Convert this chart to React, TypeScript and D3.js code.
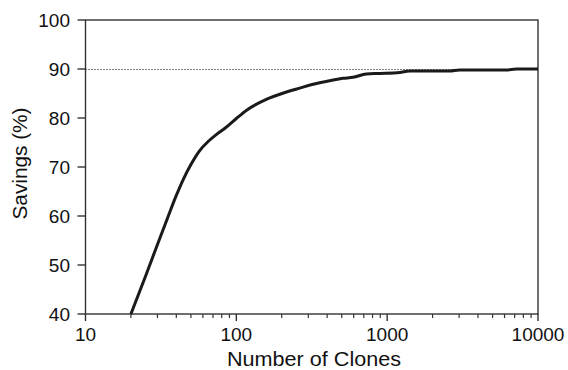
import React from "react";
import * as d3 from "d3";

// number of clones (x, log scale) and savings in % (y)
const clones = [20, 25, 30, 35, 40, 45, 50, 57, 65, 75, 84, 100, 117, 158, 215, 263, 323, 416, 509, 594, 728, 900, 1211, 1408, 2595, 3020, 6170, 7180, 10000];
const savings = [40, 47.7, 54.2, 59.6, 64.2, 67.8, 70.5, 73.3, 75.2, 76.8, 77.9, 79.9, 81.6, 83.8, 85.3, 86.1, 86.9, 87.6, 88.1, 88.3, 89.0, 89.1, 89.3, 89.6, 89.6, 89.8, 89.8, 90, 90];
const xTicks = [10, 100, 1000, 10000];
const yTicks = [40, 50, 60, 70, 80, 90, 100];
const refLine = 90;

const W = 568;
const H = 370;
const left = 85.5;
const right = 538;
const top = 20;
const bottom = 314;

export default function App() {
  const x = d3.scaleLog().domain([10, 10000]).range([left, right]);
  const y = d3.scaleLinear().domain([40, 100]).range([bottom, top]);

  const line = d3
    .line<number>()
    .x((d, i) => x(clones[i]))
    .y((d) => y(d))
    .curve(d3.curveMonotoneX);

  // minor ticks 20..90, 200..900, 2000..9000
  const minor: number[] = [];
  [10, 100, 1000].forEach((dec) => {
    for (let k = 2; k <= 9; k++) minor.push(dec * k);
  });

  const font = "'Liberation Sans', Arial, Helvetica, sans-serif";
  const axisColor = "#333";
  const refY = Math.round(y(refLine)) + 0.5;

  return (
    <svg
      width={W}
      height={H}
      style={{ position: "absolute", left: 0, top: 0, background: "#fff" }}
      fontFamily={font}
    >
      {/* frame */}
      <rect x={left} y={top} width={right - left} height={bottom - top} fill="none" stroke={axisColor} strokeWidth={1.4} />

      {/* reference line at 90 */}
      <line x1={left} x2={right} y1={refY} y2={refY} stroke="#000" strokeWidth={1} strokeDasharray="1,2" />

      {/* y axis */}
      {yTicks.map((t) => (
        <g key={"y" + t}>
          <line x1={left - 8} x2={left} y1={y(t)} y2={y(t)} stroke={axisColor} strokeWidth={1.4} />
          <text x={70} y={y(t)} dy="0.36em" textAnchor="end" fontSize={19} fill="#111">
            {t}
          </text>
        </g>
      ))}

      {/* x axis */}
      {xTicks.map((t) => (
        <g key={"x" + t}>
          <line x1={x(t)} x2={x(t)} y1={bottom} y2={bottom + 7} stroke={axisColor} strokeWidth={1.4} />
          <text x={x(t)} y={340.5} textAnchor="middle" fontSize={19} fill="#111">
            {t}
          </text>
        </g>
      ))}
      {minor.map((t) => (
        <line key={"m" + t} x1={x(t)} x2={x(t)} y1={bottom} y2={bottom + 4} stroke={axisColor} strokeWidth={1.2} />
      ))}

      {/* curve */}
      <path d={line(savings) || ""} fill="none" stroke="#1a1a1a" strokeWidth={3} strokeLinejoin="round" />

      {/* axis titles */}
      <text
        x={314}
        y={366}
        textAnchor="middle"
        fontSize={20}
        fill="#111"
        textLength={174}
        lengthAdjust="spacingAndGlyphs"
      >
        Number of Clones
      </text>
      <text
        transform="translate(26.5, 163.5) rotate(-90)"
        textAnchor="middle"
        fontSize={20}
        fill="#111"
        textLength={112}
        lengthAdjust="spacingAndGlyphs"
      >
        Savings (%)
      </text>
    </svg>
  );
}
